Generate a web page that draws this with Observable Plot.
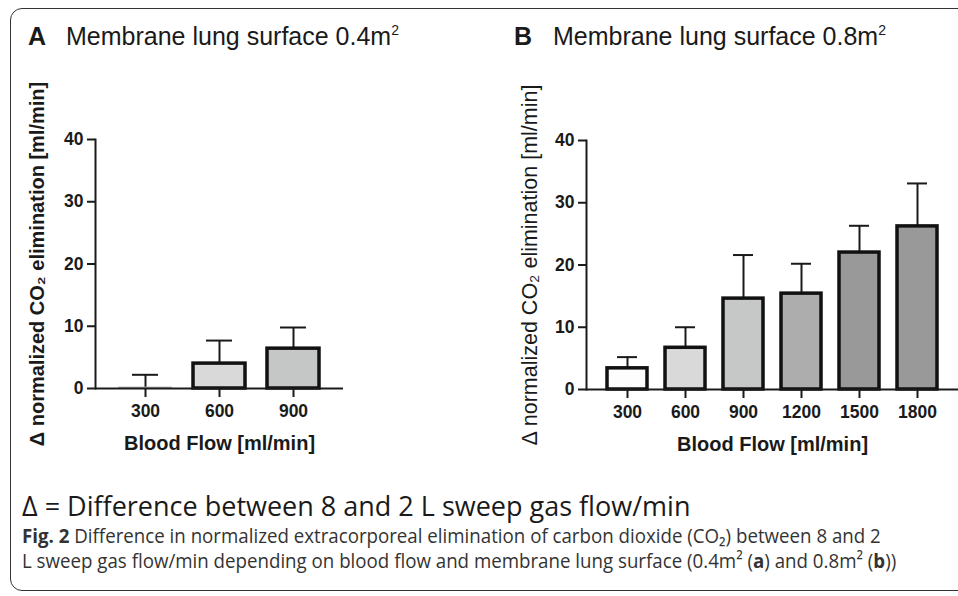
<!DOCTYPE html>
<html>
<head>
<meta charset="utf-8">
<script src="https://cdn.jsdelivr.net/npm/d3@7"></script>
<script src="https://cdn.jsdelivr.net/npm/@observablehq/plot@0.6"></script>
<style>
  html, body { margin: 0; padding: 0; background: #fff; overflow: hidden; width: 958px; height: 596px; }
  #wrap { position: relative; width: 958px; height: 596px; }
  .frame { position: absolute; left: 10px; top: 8px; width: 1000px; height: 583px; border: 1.5px solid #333; border-radius: 12px; box-sizing: border-box; }
  .abs { position: absolute; white-space: nowrap; }
  .ttl { font-family: "Liberation Sans", Arial, sans-serif; font-size: 25px; line-height: 25px; color: #1a1a1a; }
  .ttl b { font-weight: bold; }
  .ttl sup { font-size: 14px; line-height: 0; vertical-align: 10px; }
  .foot { font-family: "Open Sans", sans-serif; font-size: 27px; line-height: 27px; color: #1a1a1a; }
  .cap { font-family: "Open Sans", sans-serif; font-size: 20px; line-height: 25px; color: #333; transform: scaleX(0.935); transform-origin: left top; }
  .plotbox { position: absolute; top: 0; }
</style>
</head>
<body>
<div id="wrap">
  <div class="frame"></div>
  <div class="plotbox" id="pa" style="left:0px"></div>
  <div class="plotbox" id="pb" style="left:479px"></div>
  <div class="abs ttl" style="left:28px; top:24px"><b>A</b></div>
  <div class="abs ttl" style="left:66px; top:24px">Membrane lung surface 0.4m<sup>2</sup></div>
  <div class="abs ttl" style="left:514px; top:24px"><b>B</b></div>
  <div class="abs ttl" style="left:553px; top:24px">Membrane lung surface 0.8m<sup>2</sup></div>
  <div class="abs foot" style="left:22px; top:492px">Δ = Difference between 8 and 2 L sweep gas flow/min</div>
  <div class="abs cap" style="left:22px; top:523px"><b>Fig. 2</b> Difference in normalized extracorporeal elimination of carbon dioxide (CO₂) between 8 and 2</div>
  <div class="abs cap" style="left:22px; top:548px">L sweep gas flow/min depending on blood flow and membrane lung surface (0.4m² (<b>a</b>) and 0.8m² (<b>b</b>))</div>
</div>
<script>
// ---- data ----
const flowA = ["300", "600", "900"];
const meanA = [0.1, 4.0, 6.4];
const sdA = [2.1, 3.7, 3.4];

const flowB = ["300", "600", "900", "1200", "1500", "1800"];
const meanB = [3.4, 6.7, 14.6, 15.4, 22.0, 26.2];
const sdB = [1.8, 3.3, 7.0, 4.8, 4.3, 6.9];

const yTicks = [0, 10, 20, 30, 40];
const yLabel = "Δ normalized CO₂ elimination [ml/min]";
const xLabel = "Blood Flow [ml/min]";

// ---- styles ----
const fillsA = ["#fdfdfd", "#d9d9d9", "#c5c7c6"];
const fillsB = ["#fdfdfd", "#d9d9d9", "#c6c8c7", "#adadad", "#999999", "#999999"];
const ink = "#1a1a1a";

function build(flows, means, sds, fills, opt) {
  const rows = flows.map((f, i) => ({flow: f, mean: means[i], top: means[i] + sds[i], fill: fills[i]}));
  return Plot.plot({
    width: 479,
    height: 470,
    marginLeft: opt.marginLeft,
    marginRight: opt.marginRight,
    marginTop: opt.marginTop,
    marginBottom: opt.marginBottom,
    style: {fontFamily: "'Liberation Sans', Arial, sans-serif", fontSize: "17px", fontWeight: "bold", color: ink, background: "transparent", overflow: "visible"},
    x: {domain: flows, paddingInner: opt.pi, paddingOuter: opt.po, label: null},
    y: {domain: [0, 40], label: null},
    marks: [
      Plot.ruleX(rows, {x: "flow", y1: "mean", y2: "top", stroke: ink, strokeWidth: 2}),
      Plot.tickY(rows, {x: "flow", y: "top", stroke: ink, strokeWidth: 2, insetLeft: opt.capInset, insetRight: opt.capInset}),
      Plot.barY(rows, {x: "flow", y: "mean", fill: "fill", stroke: d => d.mean < 0.5 ? "#b0b0b0" : "#111", strokeWidth: d => d.mean < 0.5 ? 1.5 : 3.5}),
      Plot.axisY({ticks: yTicks, tickSize: 8, tickPadding: 4, strokeWidth: 2, stroke: ink, fontSize: 17.5, fontWeight: "bold", label: null}),
      Plot.axisX({tickSize: 9, tickPadding: 7, strokeWidth: 2, stroke: ink, fontSize: 17.5, fontWeight: "bold", label: null}),
      Plot.frame({anchor: "left", stroke: ink, strokeWidth: 2}),
      Plot.ruleY([0], {stroke: ink, strokeWidth: 2}),
      Plot.text([yLabel], {frameAnchor: "left", dx: opt.ylDx, rotate: -90, textAnchor: "middle", lineAnchor: "middle", fontSize: opt.ylSize, fontWeight: opt.ylWeight, fill: ink}),
      Plot.text([xLabel], {frameAnchor: "bottom", dy: 55, textAnchor: "middle", lineAnchor: "middle", fontSize: 20, fontWeight: "bold", fill: ink})
    ]
  });
}

document.getElementById("pa").appendChild(build(flowA, meanA, sdA, fillsA, {
  marginLeft: 95, marginRight: 136, marginTop: 139, marginBottom: 82,
  pi: 0.30, po: 0.315, capInset: 13, ylDx: -58, ylSize: 20, ylWeight: "bold"
}));
document.getElementById("pb").appendChild(build(flowB, meanB, sdB, fillsB, {
  marginLeft: 107, marginRight: 0, marginTop: 140, marginBottom: 81,
  pi: 0.305, po: 0.31, capInset: 10, ylDx: -56, ylSize: 21.5, ylWeight: "normal"
}));
</script>
</body>
</html>
